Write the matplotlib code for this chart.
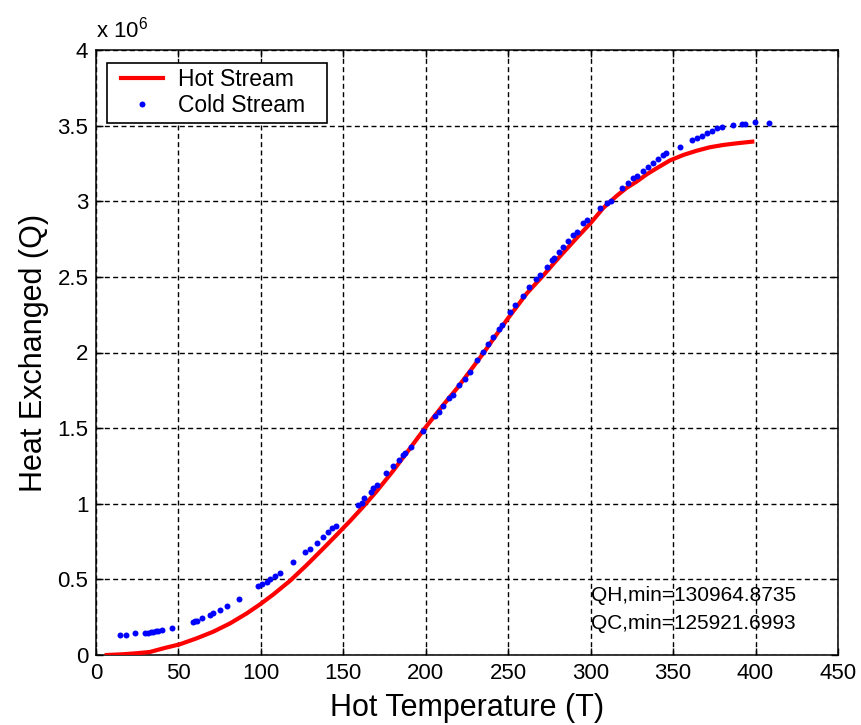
import numpy as np
import matplotlib
matplotlib.use("Agg")
import matplotlib.pyplot as plt
from matplotlib.ticker import FuncFormatter, MultipleLocator
from matplotlib.legend_handler import HandlerLine2D

plt.rcParams['font.family'] = ['Liberation Sans', 'DejaVu Sans']
plt.rcParams['mathtext.fontset'] = 'custom'
plt.rcParams['mathtext.rm'] = 'Liberation Sans'

# hot stream composite curve (T, Q in units of 1e6)
t_hot = [6.5, 16.6, 25.0, 32.7, 40.8, 50.9, 61.0, 71.1, 81.3, 91.4, 99.5,
         107.5, 117.6, 127.8, 137.9, 146.0, 154.0, 162.0, 170.0, 180.0, 190.0,
         199.5, 210.0, 218.7, 226.0, 234.9, 242.0, 249.1, 255.0, 261.2, 271.3,
         281.4, 291.5, 300.0, 307.6, 315.7, 322.0, 327.9, 334.0, 340.0, 348.1,
         356.2, 364.3, 372.3, 380.4, 388.5, 398.0]
q_hot = [0.0, 0.005, 0.012, 0.02, 0.044, 0.071, 0.110, 0.154, 0.209, 0.275,
         0.335, 0.400, 0.490, 0.595, 0.705, 0.795, 0.885, 0.980, 1.080, 1.215,
         1.360, 1.500, 1.645, 1.760, 1.865, 1.995, 2.105, 2.215, 2.300, 2.390,
         2.510, 2.636, 2.757, 2.856, 2.955, 3.035, 3.090, 3.130, 3.178, 3.218,
         3.270, 3.306, 3.334, 3.357, 3.372, 3.383, 3.394]

# cold stream points
t_cold = [14.6, 18.2, 23.7, 29.7, 31.7, 33.2, 34.8, 36.3, 37.8, 39.8, 45.9,
          59.0, 60.0, 61.0, 64.1, 69.1, 71.1, 75.2, 79.2, 86.7, 98.4, 100.5,
          103.5, 105.5, 108.5, 111.6, 119.7, 126.7, 129.8, 133.8, 137.9, 141.0,
          143.0, 145.5, 159.1, 161.1, 162.5, 166.6, 168.2, 170.2, 175.9, 180.3,
          183.9, 186.4, 187.4, 191.0, 198.5, 205.6, 208.2, 210.2, 214.3, 216.3,
          220.3, 223.8, 226.8, 231.2, 234.5, 237.9, 240.9, 244.4, 246.0, 251.1,
          254.1, 258.8, 262.8, 266.8, 269.3, 273.3, 276.3, 277.7, 281.0, 283.4,
          286.4, 289.1, 291.5, 295.5, 298.0, 305.6, 310.1, 312.1, 318.8, 322.8,
          325.8, 327.9, 331.9, 334.9, 338.0, 341.0, 344.0, 345.7, 353.9, 361.2,
          364.3, 367.3, 370.3, 373.3, 376.8, 379.4, 386.5, 391.6, 393.6, 399.6,
          408.3]
q_cold = [0.132, 0.132, 0.143, 0.143, 0.148, 0.150, 0.152, 0.156, 0.159, 0.165,
          0.176, 0.220, 0.223, 0.227, 0.242, 0.264, 0.275, 0.298, 0.324, 0.370,
          0.456, 0.469, 0.485, 0.500, 0.522, 0.544, 0.613, 0.679, 0.699, 0.738,
          0.782, 0.815, 0.838, 0.856, 0.992, 1.007, 1.040, 1.080, 1.102, 1.124,
          1.201, 1.248, 1.287, 1.322, 1.334, 1.377, 1.482, 1.582, 1.609, 1.649,
          1.697, 1.719, 1.785, 1.823, 1.873, 1.950, 2.001, 2.056, 2.100, 2.155,
          2.182, 2.265, 2.314, 2.374, 2.431, 2.484, 2.512, 2.567, 2.612, 2.627,
          2.667, 2.695, 2.739, 2.777, 2.799, 2.854, 2.876, 2.953, 2.991, 3.004,
          3.086, 3.123, 3.152, 3.167, 3.202, 3.229, 3.251, 3.277, 3.306, 3.317,
          3.357, 3.405, 3.416, 3.431, 3.449, 3.466, 3.482, 3.493, 3.504, 3.511,
          3.511, 3.526, 3.519]

notes = ["QH,min=130964.8735", "QC,min=125921.6993"]

q_hot = np.array(q_hot) * 1e6
q_cold = np.array(q_cold) * 1e6

fig = plt.figure(figsize=(8.62, 7.25), dpi=100)
ax = fig.add_axes([96 / 862, 70 / 725, 742 / 862, 605 / 725])

hot, = ax.plot(t_hot, q_hot, color='#ff0000', lw=3, label='Hot Stream',
               zorder=3, solid_joinstyle='round')
cold, = ax.plot(t_cold, q_cold, 'o', color='#0000ff', ms=4.3, mew=0,
                label='Cold Stream', zorder=4)

ax.set_xlim(0, 450)
ax.set_ylim(0, 4e6)
ax.xaxis.set_major_locator(MultipleLocator(50))
ax.yaxis.set_major_locator(MultipleLocator(0.5e6))
ax.yaxis.set_major_formatter(FuncFormatter(lambda v, p: '%g' % (v / 1e6)))

ax.grid(True, color='black', lw=1.0, linestyle=(0, (3.6, 2.4)))
ax.tick_params(direction='in', top=True, right=True, length=5, width=1,
               labelsize=16)
ax.tick_params(axis='x', pad=6)
ax.tick_params(axis='y', pad=5.5)
for s in ax.spines.values():
    s.set_linewidth(1.1)

ax.set_xlabel('Hot Temperature (T)', fontsize=22, labelpad=6)
ax.set_ylabel('Heat Exchanged (Q)', fontsize=22, labelpad=6)

ax.text(0, 1.02, r'x 10$^{\mathrm{6}}$', transform=ax.transAxes,
        fontsize=16, ha='left', va='baseline')

ax.text(300, 0.395e6, notes[0], fontsize=15, ha='left', va='center')
ax.text(300, 0.205e6, notes[1], fontsize=15, ha='left', va='center')

leg = ax.legend(handles=[hot, cold], loc='upper left',
                bbox_to_anchor=(11 / 742, 0, 220 / 742, 1 - 13 / 605),
                mode='expand', borderaxespad=0, fontsize=16.5, fancybox=False,
                edgecolor='black', framealpha=1, handlelength=2.24,
                handletextpad=0.65, borderpad=0.22, labelspacing=0.15,
                handler_map={hot: HandlerLine2D(xpad=0.37),
                             cold: HandlerLine2D(xpad=0.37)})
leg.get_frame().set_linewidth(1.2)

fig.savefig('out.png', dpi=100)
